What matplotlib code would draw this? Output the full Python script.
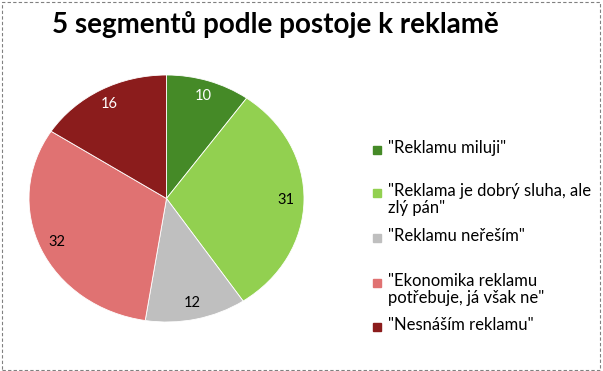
import matplotlib
matplotlib.use("Agg")
import matplotlib.pyplot as plt
from matplotlib.patches import Rectangle

categories = [
    '"Reklamu miluji"',
    '"Reklama je dobrý sluha, ale\nzlý pán"',
    '"Reklamu neřeším"',
    '"Ekonomika reklamu\npotřebuje, já však ne"',
    '"Nesnáším reklamu"',
]
values = [10, 31, 12, 32, 16]
colors = ["#458a27", "#92d050", "#bfbfbf", "#e07272", "#8b1c1c"]
label_colors = ["white", "black", "black", "black", "white"]

plt.rcParams["font.family"] = ["Lato", "DejaVu Sans"]

fig = plt.figure(figsize=(6.03, 3.71), dpi=100)

# dashed frame round the chart area
fig.patches.append(Rectangle((0.004, 0.004), 0.991, 0.991, transform=fig.transFigure,
                             fill=False, edgecolor="#808080", linestyle=(0, (3, 2)), lw=0.8))

fig.text(52 / 603, 1 - 25 / 371, "5 segmentů podle postoje k reklamě", fontsize=20,
         fontweight="bold", va="center", ha="left")

# pie is a bit wider than tall in the original
ax = fig.add_axes([29 / 603, 1 - 322 / 371, 275 / 603, 247 / 371])
wedges, texts = ax.pie(values, colors=colors, startangle=90, counterclock=False,
                       labels=[str(v) for v in values], labeldistance=0.87,
                       wedgeprops=dict(linewidth=0.6, edgecolor="white"),
                       textprops=dict(fontsize=10.5))
for t, c in zip(texts, label_colors):
    t.set_color(c)
    t.set_ha("center")
    t.set_va("center")
ax.set_aspect("auto")
ax.set_xlim(-1, 1)
ax.set_ylim(-1, 1)

# legend entries, laid out like the original
entry_y = [150, 193, 238, 283, 327]
for name, col, y in zip(categories, colors, entry_y):
    fig.patches.append(Rectangle((373 / 603, 1 - (y + 4) / 371), 8 / 603, 8 / 371,
                                 transform=fig.transFigure, color=col))
    fig.text(388 / 603, 1 - (y - 10) / 371, name, fontsize=12, va="top", ha="left",
             linespacing=1.1)

fig.savefig("out.png", dpi=100)
